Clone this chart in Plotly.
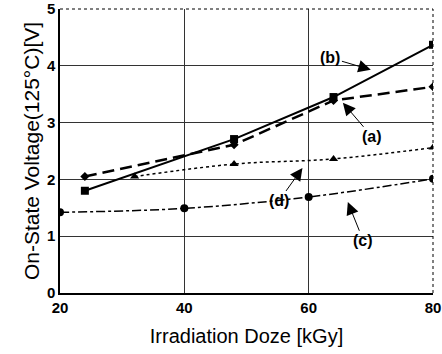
import plotly.graph_objects as go

# Data
x_a = [24, 48, 64, 80]
y_a = [2.05, 2.61, 3.39, 3.63]
x_b = [24, 48, 64, 80]
y_b = [1.80, 2.71, 3.45, 4.37]
x_c = [20, 40, 60, 80]
y_c = [1.42, 1.49, 1.69, 2.01]
x_d = [32, 48, 64, 80]
y_d = [2.05, 2.27, 2.36, 2.56]

x_ticks = [20, 40, 60, 80]
y_ticks = [0, 1, 2, 3, 4, 5]

fig = go.Figure()
fig.add_trace(go.Scatter(x=x_b, y=y_b, mode="lines+markers",
                         line=dict(color="black", width=2),
                         marker=dict(symbol="square", size=8, color="black")))
fig.add_trace(go.Scatter(x=x_a, y=y_a, mode="lines+markers",
                         line=dict(color="black", width=2.5, dash="12px,6px"),
                         marker=dict(symbol="diamond", size=7, color="black")))
fig.add_trace(go.Scatter(x=x_d, y=y_d, mode="lines+markers",
                         line=dict(color="black", width=1.5, dash="dot", shape="spline"),
                         marker=dict(symbol="triangle-up", size=8, color="black")))
fig.add_trace(go.Scatter(x=x_c, y=y_c, mode="lines+markers",
                         line=dict(color="black", width=1.5, dash="dashdot", shape="spline"),
                         marker=dict(symbol="circle", size=8, color="black")))

labels = [
    ("(b)", 70.0, 3.93, 63.5, 4.14),
    ("(a)", 65.5, 3.35, 70.2, 2.75),
    ("(d)", 59.0, 2.20, 55.2, 1.62),
    ("(c)", 66.3, 1.60, 68.8, 0.92),
]
for t, hx, hy, tx, ty in labels:
    fig.add_annotation(x=hx, y=hy, ax=tx, ay=ty, axref="x", ayref="y",
                       xref="x", yref="y", text="<b>%s</b>" % t,
                       showarrow=True, arrowhead=2, arrowsize=2.5, arrowwidth=1,
                       arrowcolor="black",
                       font=dict(size=16, color="black", family="Liberation Sans"))

# Plot border: dotted top/right
fig.add_shape(type="line", xref="paper", yref="paper", x0=0, y0=1, x1=1, y1=1,
              line=dict(color="black", width=1, dash="dot"))
fig.add_shape(type="line", xref="paper", yref="paper", x0=1, y0=0, x1=1, y1=1,
              line=dict(color="black", width=1, dash="dot"))

fig.update_layout(
    width=442, height=354,
    margin=dict(l=60, r=9, t=9, b=61, autoexpand=False),
    paper_bgcolor="white", plot_bgcolor="white",
    showlegend=False,
    font=dict(family="Liberation Sans", color="black"),
)
fig.update_xaxes(range=[20, 80], tickvals=x_ticks,
                 ticktext=["<b>%d</b>" % v for v in x_ticks],
                 tickfont=dict(size=15, color="black"), showgrid=True, gridcolor="#333", gridwidth=1,
                 showline=True, linecolor="black", linewidth=1.5, zeroline=False,
                 ticks="", ticklabelstandoff=0, automargin=False,
                 title=dict(text="Irradiation Doze [kGy]", font=dict(size=20, color="black"), standoff=14))
fig.update_yaxes(range=[0, 5], tickvals=y_ticks,
                 ticktext=["<b>%d</b>" % v for v in y_ticks],
                 tickfont=dict(size=15, color="black"), showgrid=True, gridcolor="#333", gridwidth=1,
                 showline=True, linecolor="black", linewidth=1.5, zeroline=False,
                 ticks="", automargin=False,
                 title=dict(text="On-State Voltage(125°C)[V]", font=dict(size=21, color="black"), standoff=2))

fig.write_html("out.html")
